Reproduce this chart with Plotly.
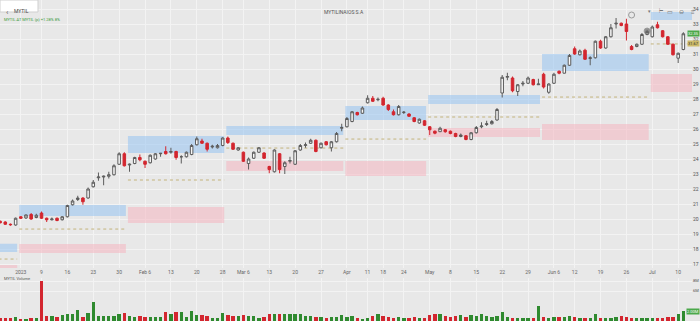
import plotly.graph_objects as go

# ---------------- data ----------------
dates = [
    "2022-12-27", "2022-12-28", "2022-12-29", "2022-12-30",
    "2023-01-02", "2023-01-03", "2023-01-04", "2023-01-05", "2023-01-09", "2023-01-10",
    "2023-01-11", "2023-01-12", "2023-01-13", "2023-01-16", "2023-01-17", "2023-01-18",
    "2023-01-19", "2023-01-20", "2023-01-23", "2023-01-24", "2023-01-25", "2023-01-26",
    "2023-01-27", "2023-01-30", "2023-01-31",
    "2023-02-01", "2023-02-02", "2023-02-03", "2023-02-06", "2023-02-07", "2023-02-08",
    "2023-02-09", "2023-02-10", "2023-02-13", "2023-02-14", "2023-02-15", "2023-02-16",
    "2023-02-17", "2023-02-20", "2023-02-21", "2023-02-22", "2023-02-23", "2023-02-24",
    "2023-02-28",
    "2023-03-01", "2023-03-02", "2023-03-03", "2023-03-06", "2023-03-07", "2023-03-08",
    "2023-03-09", "2023-03-10", "2023-03-13", "2023-03-14", "2023-03-15", "2023-03-16",
    "2023-03-17", "2023-03-20", "2023-03-21", "2023-03-22", "2023-03-23", "2023-03-24",
    "2023-03-27", "2023-03-28", "2023-03-29", "2023-03-30", "2023-03-31",
    "2023-04-03", "2023-04-04", "2023-04-05", "2023-04-06", "2023-04-11", "2023-04-12",
    "2023-04-13", "2023-04-18", "2023-04-19", "2023-04-20", "2023-04-21", "2023-04-24",
    "2023-04-25", "2023-04-26", "2023-04-27", "2023-04-28",
    "2023-05-02", "2023-05-03", "2023-05-04", "2023-05-05", "2023-05-08", "2023-05-09",
    "2023-05-10", "2023-05-11", "2023-05-12", "2023-05-15", "2023-05-16", "2023-05-17",
    "2023-05-18", "2023-05-19", "2023-05-22", "2023-05-23", "2023-05-24", "2023-05-25",
    "2023-05-26", "2023-05-29", "2023-05-30", "2023-05-31",
    "2023-06-01", "2023-06-02", "2023-06-06", "2023-06-07", "2023-06-08", "2023-06-09",
    "2023-06-12", "2023-06-13", "2023-06-14", "2023-06-15", "2023-06-16", "2023-06-19",
    "2023-06-20", "2023-06-21", "2023-06-22", "2023-06-23", "2023-06-26", "2023-06-27",
    "2023-06-28", "2023-06-29", "2023-06-30",
    "2023-07-03", "2023-07-04", "2023-07-05", "2023-07-06", "2023-07-07", "2023-07-10",
    "2023-07-11",
]

opens = [
    19.85, 19.80, 19.65, 19.60,
    20.15, 20.07, 20.30, 20.10, 20.40, 20.05, 19.95, 20.05, 19.95, 20.15, 20.95, 21.30,
    21.40, 21.40, 22.15, 22.75, 22.80, 22.85, 22.95, 23.65, 24.35,
    23.60, 23.70, 24.10, 23.85, 23.75, 24.00, 24.35, 24.50, 24.45, 24.50, 24.15, 24.15,
    24.30, 24.95, 25.20, 25.05, 24.80, 24.75, 24.90,
    25.40, 25.05, 24.60, 24.45, 23.70, 24.05, 24.45, 24.40, 23.50, 23.15, 24.35, 23.50,
    23.85, 23.65, 24.60, 24.90, 25.05, 25.25, 24.75, 25.15, 24.75, 25.15, 26.05,
    26.15, 26.50, 27.10, 27.05, 27.75, 28.05, 27.95, 28.05, 27.60, 27.15, 26.95, 27.10,
    27.00, 26.75, 26.40, 26.55,
    26.15, 25.85, 25.82, 25.95, 25.85, 25.70, 25.50, 25.55, 25.30, 25.75, 26.15, 26.30,
    26.35, 26.60, 28.40, 29.45, 29.40, 28.50, 29.00, 29.05, 29.30, 28.95,
    29.65, 28.45, 29.05, 29.85, 29.72, 30.25, 31.35, 30.95, 31.25, 30.70, 30.75, 31.85,
    31.40, 32.15, 33.00, 33.05, 33.00, 31.50, 31.50, 31.65, 32.30,
    32.15, 32.95, 32.55, 32.15, 31.65, 30.72, 31.30,
]

highs = [
    19.90, 19.85, 19.70, 20.10,
    20.20, 20.30, 20.40, 20.35, 20.50, 20.10, 20.10, 20.10, 20.20, 20.95, 21.30, 21.55,
    21.45, 22.10, 22.60, 23.10, 22.90, 23.15, 23.65, 24.45, 24.45,
    23.70, 24.15, 24.30, 23.90, 24.30, 24.40, 24.40, 24.85, 24.75, 24.55, 24.25, 24.50,
    25.00, 25.50, 25.35, 25.10, 24.95, 25.00, 25.45,
    25.50, 25.10, 24.80, 24.50, 24.10, 24.50, 24.80, 24.45, 23.55, 24.65, 24.40, 23.85,
    24.15, 24.60, 25.00, 25.10, 25.35, 25.30, 25.10, 25.20, 25.20, 25.80, 26.35,
    26.80, 27.20, 27.15, 27.50, 28.25, 28.20, 28.10, 28.15, 27.65, 27.30, 27.60, 27.20,
    27.05, 26.80, 26.70, 26.60,
    26.20, 25.90, 26.15, 26.00, 25.90, 25.75, 25.70, 25.60, 25.80, 26.20, 26.45, 26.55,
    26.60, 27.40, 29.60, 29.75, 29.50, 29.00, 29.20, 29.50, 29.35, 29.35,
    29.75, 29.05, 29.75, 29.90, 30.30, 31.00, 31.50, 31.30, 31.35, 30.85, 31.90, 31.95,
    32.20, 33.00, 33.40, 33.10, 33.35, 31.60, 31.70, 32.40, 32.60,
    32.90, 33.15, 32.60, 32.20, 31.70, 31.10, 32.45,
]

lows = [
    19.70, 19.60, 19.55, 19.55,
    20.00, 20.00, 19.95, 20.05, 20.00, 19.80, 19.90, 19.85, 19.90, 20.10, 20.90, 21.20,
    20.95, 21.35, 22.10, 22.55, 22.25, 22.70, 22.90, 23.60, 23.50,
    23.15, 23.65, 23.85, 23.40, 23.70, 23.95, 24.15, 24.30, 24.35, 23.95, 23.70, 24.10,
    24.25, 24.90, 25.00, 24.50, 24.70, 24.70, 24.85,
    25.00, 24.60, 24.55, 23.80, 23.30, 24.00, 24.40, 24.00, 23.05, 23.10, 23.05, 23.00,
    23.70, 23.60, 24.55, 24.75, 25.00, 24.45, 24.70, 24.90, 24.50, 25.10, 25.85,
    26.10, 26.45, 26.90, 27.00, 27.70, 27.80, 27.85, 27.55, 27.20, 26.90, 26.90, 27.00,
    26.80, 26.45, 26.35, 26.20,
    25.60, 25.65, 25.80, 25.75, 25.65, 25.45, 25.45, 25.25, 25.25, 25.70, 26.05, 26.20,
    26.30, 26.55, 28.10, 29.25, 28.45, 28.20, 28.85, 29.00, 28.90, 28.95,
    28.70, 28.35, 29.00, 29.65, 29.70, 30.20, 30.95, 30.90, 30.60, 30.25, 30.70, 31.35,
    31.35, 32.10, 32.70, 32.85, 31.90, 31.25, 31.45, 31.60, 32.25,
    32.10, 32.70, 32.10, 31.60, 30.90, 30.40, 31.25,
]

closes = [
    19.75, 19.65, 19.62, 20.05,
    20.05, 20.27, 20.00, 20.25, 20.05, 19.95, 20.00, 19.90, 20.15, 20.90, 21.20, 21.40,
    21.15, 22.00, 22.45, 22.80, 22.85, 22.95, 23.55, 24.35, 23.55,
    23.65, 24.10, 23.95, 23.65, 24.25, 24.35, 24.38, 24.35, 24.50, 24.10, 24.15, 24.45,
    24.90, 25.35, 25.05, 24.65, 24.85, 24.90, 25.40,
    25.10, 24.65, 24.75, 23.85, 24.00, 24.45, 24.75, 24.05, 23.30, 24.60, 23.30, 23.75,
    23.90, 24.55, 24.90, 24.95, 25.25, 24.50, 25.05, 24.95, 25.15, 25.70, 26.10,
    26.70, 27.15, 26.95, 27.40, 28.05, 27.85, 27.98, 27.60, 27.30, 26.95, 27.50, 27.12,
    26.85, 26.50, 26.65, 26.25,
    25.95, 25.72, 26.05, 25.82, 25.70, 25.50, 25.60, 25.30, 25.75, 26.10, 26.20, 26.35,
    26.50, 27.30, 29.45, 29.50, 28.55, 28.95, 29.05, 29.40, 28.95, 29.00,
    28.80, 29.00, 29.65, 29.72, 30.25, 30.90, 31.00, 31.20, 30.65, 30.75, 31.85, 31.40,
    32.15, 32.75, 33.05, 32.90, 32.50, 31.30, 31.65, 32.30, 32.50,
    32.80, 32.75, 32.15, 31.65, 30.95, 31.05, 32.35,
]

# daily volume, thousands of shares
volumes = [
    540, 540, 540, 800,
    340, 340, 660, 660, 8000, 1000, 1000, 860, 1200, 1340, 1340, 2140,
    800, 1660, 3860, 1000, 1000, 1000, 1000, 1340, 1600,
    1000, 800, 1000, 800, 800, 800, 800, 1800, 1340, 1800, 1800, 800,
    2000, 1200, 1140, 1000, 660, 540, 1660,
    1200, 1000, 1000, 1140, 1000, 1000, 540, 860, 1340, 1340, 1340, 1460,
    1460, 1340, 1340, 1000, 1000, 800, 800, 540, 800, 800, 1140,
    800, 1000, 660, 460, 540, 1000, 1460, 1000, 800, 660, 800, 660,
    540, 800, 660, 660,
    1200, 1460, 1340, 1000, 860, 1000, 1140, 800, 1140, 1000, 1340, 1000,
    800, 1000, 1800, 800, 660, 540, 540, 540, 660, 3000,
    860, 660, 800, 800, 800, 1000, 800, 660, 540, 660, 1340, 540,
    660, 660, 800, 1000, 860, 660, 540, 540, 540,
    660, 660, 660, 800, 800, 1340, 2000,
]

# x-axis week labels
tick_dates = ["2023-01-02", "2023-01-09", "2023-01-16", "2023-01-23", "2023-01-30",
              "2023-02-06", "2023-02-13", "2023-02-20", "2023-02-28", "2023-03-06",
              "2023-03-13", "2023-03-20", "2023-03-27", "2023-04-03", "2023-04-11",
              "2023-04-18", "2023-04-24", "2023-05-02", "2023-05-08", "2023-05-15",
              "2023-05-22", "2023-05-29", "2023-06-06", "2023-06-12", "2023-06-19",
              "2023-06-26", "2023-07-03", "2023-07-10"]
tick_labels = ["2023", "9", "16", "23", "30", "Feb 6", "13", "20", "28", "Mar 6",
               "13", "20", "27", "Apr", "11", "18", "24", "May", "8", "15",
               "22", "29", "Jun 6", "12", "19", "26", "Jul", "10"]

# monthly zones (resistance band, pivot, support band)
zone_months = ["2022-12", "2023-01", "2023-02", "2023-03", "2023-04", "2023-05", "2023-06", "2023-07"]
res_lo = [17.80, 20.20, 24.40, 25.60, 26.60, 27.67, 29.87, 33.27]
res_hi = [18.35, 20.93, 25.53, 26.20, 27.53, 28.27, 31.00, 33.80]
pivots = [17.33, 19.33, 22.60, 24.73, 25.33, 26.80, 28.13, 31.67]
sup_lo = [16.50, 17.73, 19.73, 23.20, 22.87, 25.47, 25.27, 28.47]
sup_hi = [16.93, 18.33, 20.80, 23.87, 23.87, 26.07, 26.33, 29.67]

# event markers
event_dates = ["2023-06-27", "2023-06-30"]
event_prices = [33.60, 32.53]

# ---------------- figure ----------------
W, H = 700, 321
BG = "#e8e8e8"
GRID = "#f3f3f3"
UP_LINE, UP_FILL = "#5c5c5c", "#f7f7f7"
DN = "#d3262f"
VOL_UP, VOL_DN = "#2f8a2f", "#d3262f"

n = len(dates)
x_range = [-0.02, n + 0.67]
price_range = [16.733, 34.6]
vol_range = [0, 8600]

fig = go.Figure()

fig.add_trace(go.Candlestick(
    x=dates, open=opens, high=highs, low=lows, close=closes,
    increasing=dict(line=dict(color=UP_LINE, width=1), fillcolor=UP_FILL),
    decreasing=dict(line=dict(color=DN, width=1), fillcolor=DN),
    whiskerwidth=0, showlegend=False, xaxis="x", yaxis="y",
))

vol_colors = [VOL_UP if c >= o else VOL_DN for o, c in zip(opens, closes)]
fig.add_trace(go.Bar(
    x=dates, y=volumes, marker=dict(color=vol_colors, line=dict(width=0)),
    width=0.65, showlegend=False, xaxis="x2", yaxis="y2",
))

fig.add_trace(go.Scatter(
    x=event_dates, y=event_prices, mode="markers",
    marker=dict(size=[6, 6], color=["rgba(0,0,0,0)", "#6a6a6a"],
                line=dict(color="#7a7a7a", width=1)),
    showlegend=False, xaxis="x", yaxis="y",
))

# zone shapes
shapes = []
month_of = [d[:7] for d in dates]
for k, m in enumerate(zone_months):
    idx = [i for i, mm in enumerate(month_of) if mm == m]
    x0 = idx[0] - 0.5 + 0.2
    x1 = idx[-1] + 0.5 - 0.2 if k < len(zone_months) - 1 else x_range[1]
    shapes.append(dict(type="rect", xref="x", yref="y", x0=x0, x1=x1,
                       y0=res_lo[k], y1=res_hi[k], layer="between",
                       fillcolor="rgba(150,195,240,0.55)", line=dict(width=0)))
    shapes.append(dict(type="rect", xref="x", yref="y", x0=x0, x1=x1,
                       y0=max(sup_lo[k], price_range[0]), y1=sup_hi[k], layer="between",
                       fillcolor="rgba(245,175,188,0.5)", line=dict(width=0)))
    shapes.append(dict(type="line", xref="x", yref="y", x0=x0, x1=x1,
                       y0=pivots[k], y1=pivots[k], layer="between",
                       line=dict(color="#c3b37c", width=1, dash="dot")))

# search box
shapes.append(dict(type="rect", xref="paper", yref="paper",
                   x0=0, x1=38 / W, y0=1 - 12 / H, y1=1,
                   fillcolor="#ffffff", line=dict(color="#cfcfcf", width=1)))

FONT = "Roboto, Liberation Sans, Arial, sans-serif"

def px_x(x):
    return x / W

def px_y(y):
    return 1 - y / H

annotations = [
    dict(text="‹", x=px_x(4), y=px_y(6), xref="paper", yref="paper", showarrow=False,
         font=dict(size=8, color="#666666", family=FONT)),
    dict(text="MYTIL", x=px_x(12), y=px_y(6), xref="paper", yref="paper", showarrow=False,
         xanchor="left", font=dict(size=5, color="#444444", family=FONT)),
    dict(text="MYTIL.AT MYTIL (p) +1.28% 8%", x=px_x(2), y=px_y(15), xref="paper",
         yref="paper", showarrow=False, xanchor="left",
         font=dict(size=4, color="#3c9a3c", family=FONT)),
    dict(text="MYTILINAIOS S.A", x=px_x(344), y=px_y(7), xref="paper", yref="paper",
         showarrow=False, font=dict(size=5, color="#555555", family=FONT)),
    dict(text="▾", x=px_x(653), y=px_y(6), xref="paper", yref="paper", showarrow=False,
         font=dict(size=5, color="#777777", family=FONT)),
    dict(text="⊢", x=px_x(665), y=px_y(6), xref="paper", yref="paper", showarrow=False,
         font=dict(size=5, color="#777777", family=FONT)),
    dict(text="▭", x=px_x(675), y=px_y(6), xref="paper", yref="paper", showarrow=False,
         font=dict(size=6, color="#777777", family=FONT)),
    dict(text="⊖", x=px_x(686), y=px_y(6), xref="paper", yref="paper", showarrow=False,
         font=dict(size=6, color="#777777", family=FONT)),
    dict(text="≡", x=px_x(697), y=px_y(6), xref="paper", yref="paper", showarrow=False,
         font=dict(size=6, color="#777777", family=FONT)),
    dict(text="MYTIL Volume", x=px_x(2), y=px_y(283), xref="paper", yref="paper",
         showarrow=False, xanchor="left", font=dict(size=4, color="#555555", family=FONT)),
    # last price label
    dict(text=f"{closes[-1]:.2f}", x=1, y=closes[-1], xref="paper", yref="y",
         xanchor="right", showarrow=False, bgcolor="#4aa84a", borderpad=0,
         font=dict(size=4, color="#ffffff", family=FONT)),
    # pivot label
    dict(text=f"{pivots[-1]:.2f}", x=1, y=pivots[-1], xref="paper", yref="y",
         xanchor="right", showarrow=False, bgcolor="#cdbb6a", borderpad=0,
         font=dict(size=4, color="#333333", family=FONT)),
    # last volume label
    dict(text=f"{volumes[-1] / 1000:.2f}M", x=1, y=volumes[-1], xref="paper", yref="y2",
         xanchor="right", showarrow=False, bgcolor="#4aa84a", borderpad=0,
         font=dict(size=4, color="#ffffff", family=FONT)),
]

dom_x = [0, 692 / W]
fig.update_layout(
    width=W, height=H, margin=dict(l=0, r=0, t=0, b=0),
    paper_bgcolor=BG, plot_bgcolor=BG,
    font=dict(family=FONT, size=5, color="#666666"),
    showlegend=False,
    shapes=shapes, annotations=annotations,
    bargap=0,
    xaxis=dict(type="category", domain=dom_x, range=x_range, anchor="y",
               categoryorder="array", categoryarray=dates,
               tickmode="array", tickvals=tick_dates, ticktext=tick_labels,
               tickfont=dict(size=5, color="#666666"), ticks="",
               showgrid=True, gridcolor=GRID, gridwidth=1,
               zeroline=False, showline=False, rangeslider=dict(visible=False)),
    yaxis=dict(domain=[1 - 268 / H, 1], range=price_range, side="right", anchor="x",
               dtick=1, tickfont=dict(size=5, color="#555555"), ticks="",
               showgrid=True, gridcolor=GRID, gridwidth=1, zeroline=False, showline=False),
    xaxis2=dict(type="category", domain=dom_x, range=x_range, anchor="y2", matches="x",
                categoryorder="array", categoryarray=dates,
                tickmode="array", tickvals=tick_dates, showticklabels=False, ticks="",
                showgrid=True, gridcolor=GRID, gridwidth=1, zeroline=False, showline=False),
    yaxis2=dict(domain=[0, 43 / H], range=vol_range, side="right", anchor="x2",
                tickmode="array", tickvals=[8000, 6000], ticktext=["8M", "6M"],
                tickfont=dict(size=4, color="#555555"), ticks="",
                showgrid=True, gridcolor=GRID, gridwidth=1, zeroline=False, showline=False),
)

fig.write_html("out.html")
